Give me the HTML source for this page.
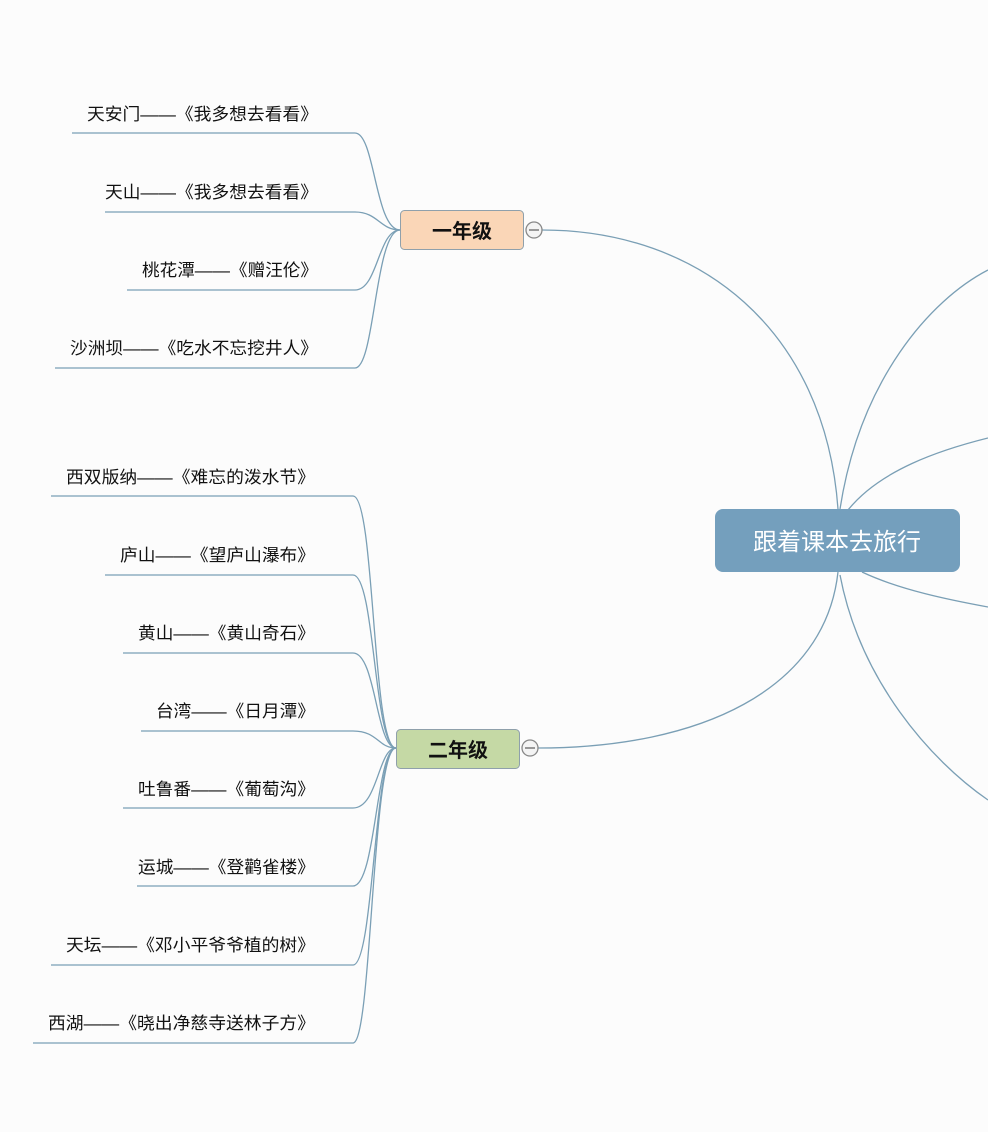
<!DOCTYPE html>
<html><head><meta charset="utf-8"><style>
html,body{margin:0;padding:0;background:#fcfcfc;}
svg{display:block}
text{font-family:"Liberation Sans","Noto Sans CJK SC",sans-serif;}
</style></head><body>
<svg width="988" height="1132" viewBox="0 0 988 1132" xmlns="http://www.w3.org/2000/svg">
<rect width="988" height="1132" fill="#fcfcfc"/>
<g fill="none" stroke="#7a9fb5" stroke-width="1.3">
<path d="M838,509 C825,330 700,230 542,230"/>
<path d="M838,572 C825,690 700,748 538,748"/>
<path d="M840,509 C860,380 930,300 988,270"/>
<path d="M848,510 C880,470 940,450 988,438"/>
<path d="M862,572 C900,590 950,600 988,607"/>
<path d="M840,575 C860,680 930,760 988,800"/>
<!-- group1 -->
<path d="M72,133 H355 C375,133 375,230 400,230"/>
<path d="M105,212 H355 C378,212 380,230 400,230"/>
<path d="M127,290 H355 C378,290 378,230 400,230"/>
<path d="M55,368 H355 C375,368 375,230 400,230"/>
<!-- group2 -->
<path d="M51,496 H353 C375,496 372,748 396,748"/>
<path d="M105,575 H353 C375,575 374,748 396,748"/>
<path d="M123,653 H353 C376,653 376,748 396,748"/>
<path d="M141,731 H353 C378,731 378,748 396,748"/>
<path d="M123,808 H353 C378,808 378,748 396,748"/>
<path d="M137,886 H353 C376,886 376,748 396,748"/>
<path d="M51,965 H353 C374,965 374,748 396,748"/>
<path d="M33,1043 H353 C372,1043 372,748 396,748"/>
</g>
<rect x="715" y="509" width="245" height="63" rx="8" fill="#749fbd"/>
<text x="837" y="550" font-size="24" fill="#fff" text-anchor="middle">跟着课本去旅行</text>
<rect x="400.5" y="210.5" width="123" height="39" rx="4" fill="#fad6b7" stroke="#8fa0ab"/>
<text x="462" y="238" font-size="20" font-weight="bold" fill="#111" text-anchor="middle">一年级</text>
<circle cx="534" cy="230" r="8" fill="#f4f4f4" stroke="#888" stroke-width="1.3"/>
<line x1="529" y1="230" x2="539" y2="230" stroke="#666" stroke-width="1.3"/>
<rect x="396.5" y="729.5" width="123" height="39" rx="4" fill="#c5d9a5" stroke="#8fa0ab"/>
<text x="458" y="757" font-size="20" font-weight="bold" fill="#111" text-anchor="middle">二年级</text>
<circle cx="530" cy="748" r="8" fill="#f4f4f4" stroke="#888" stroke-width="1.3"/>
<line x1="525" y1="748" x2="535" y2="748" stroke="#666" stroke-width="1.3"/>
<g font-size="17" fill="#111" lengthAdjust="spacingAndGlyphs">
<text x="87" y="120" textLength="231" lengthAdjust="spacingAndGlyphs">天安门——《我多想去看看》</text>
<text x="105" y="198" textLength="213" lengthAdjust="spacingAndGlyphs">天山——《我多想去看看》</text>
<text x="142" y="276" textLength="176" lengthAdjust="spacingAndGlyphs">桃花潭——《赠汪伦》</text>
<text x="70" y="354" textLength="248" lengthAdjust="spacingAndGlyphs">沙洲坝——《吃水不忘挖井人》</text>
<text x="66" y="483" textLength="249" lengthAdjust="spacingAndGlyphs">西双版纳——《难忘的泼水节》</text>
<text x="120" y="561" textLength="195" lengthAdjust="spacingAndGlyphs">庐山——《望庐山瀑布》</text>
<text x="138" y="639" textLength="177" lengthAdjust="spacingAndGlyphs">黄山——《黄山奇石》</text>
<text x="156" y="717" textLength="159" lengthAdjust="spacingAndGlyphs">台湾——《日月潭》</text>
<text x="138" y="795" textLength="177" lengthAdjust="spacingAndGlyphs">吐鲁番——《葡萄沟》</text>
<text x="138" y="873" textLength="177" lengthAdjust="spacingAndGlyphs">运城——《登鹳雀楼》</text>
<text x="66" y="951" textLength="249" lengthAdjust="spacingAndGlyphs">天坛——《邓小平爷爷植的树》</text>
<text x="48" y="1029" textLength="267" lengthAdjust="spacingAndGlyphs">西湖——《晓出净慈寺送林子方》</text>
</g>
</svg>
</body></html>
